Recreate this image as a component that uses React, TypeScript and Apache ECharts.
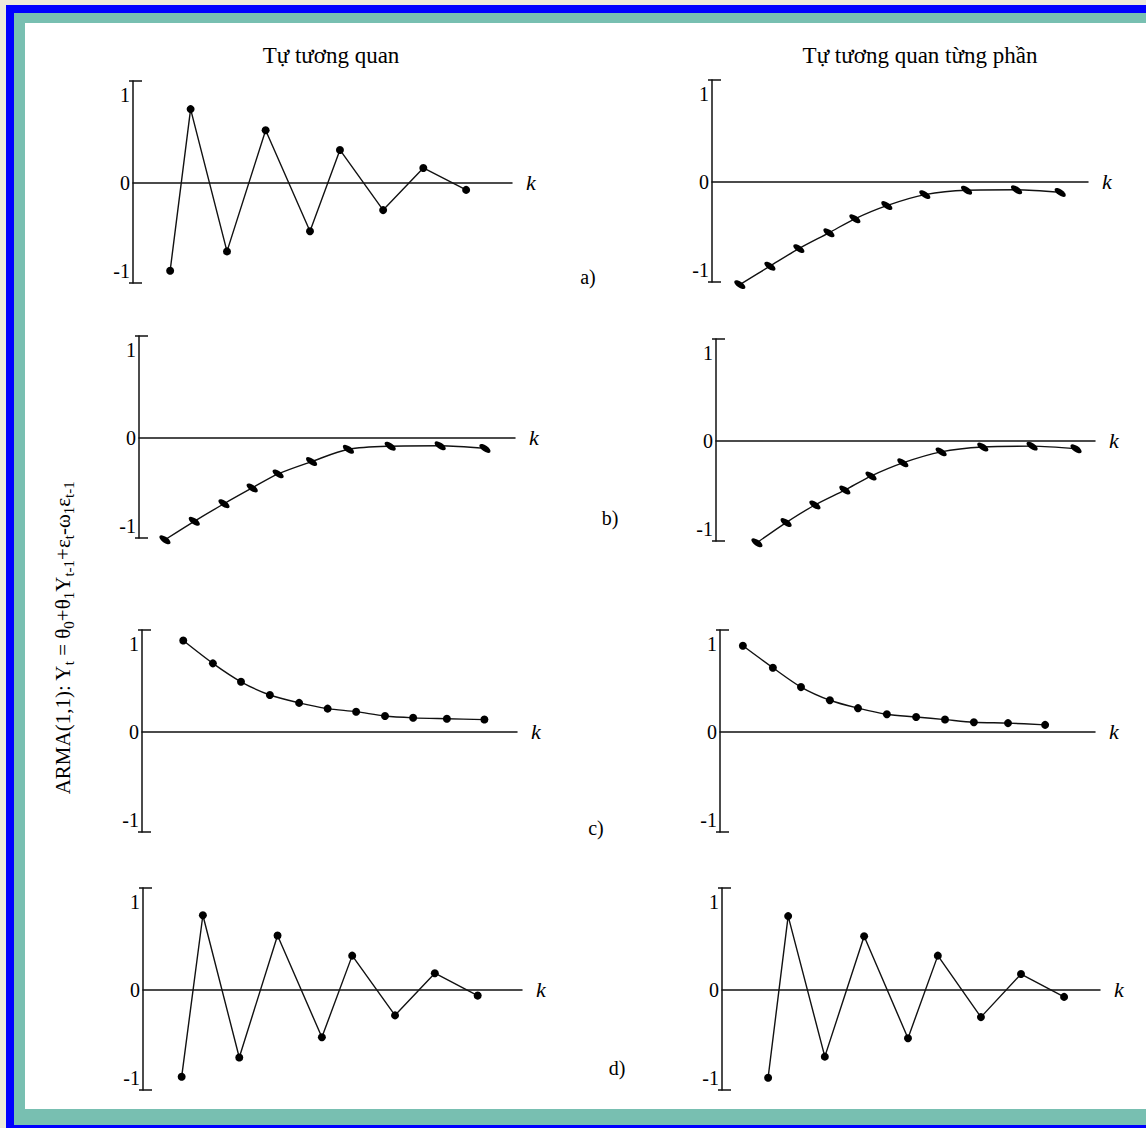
import React, { useEffect, useRef } from "react";
import * as echarts from "echarts";

// ---------- data ----------
// lag positions (k, in units of the drawn k-axis, 0..10) and correlation values
const K_A_ACF = [0.98, 1.52, 2.48, 3.5, 4.67, 5.46, 6.6, 7.66, 8.79];
const R_A_ACF = [-1.0, 0.84, -0.78, 0.6, -0.55, 0.375, -0.31, 0.17, -0.08];

const K_A_PACF = [0.74, 1.54, 2.31, 3.11, 3.8, 4.65, 5.66, 6.77, 8.1, 9.26];
const R_A_PACF = [-1.17, -0.96, -0.76, -0.58, -0.42, -0.27, -0.145, -0.095, -0.09, -0.12];

const K_B_ACF = [0.69, 1.47, 2.26, 3.01, 3.7, 4.59, 5.57, 6.68, 8.01, 9.2];
const R_B_ACF = [-1.16, -0.95, -0.75, -0.57, -0.41, -0.27, -0.13, -0.095, -0.09, -0.12];

const K_B_PACF = [1.08, 1.85, 2.61, 3.4, 4.09, 4.93, 5.94, 7.04, 8.34, 9.5];
const R_B_PACF = [-1.16, -0.93, -0.73, -0.56, -0.4, -0.25, -0.125, -0.07, -0.06, -0.09];

const K_C_ACF = [1.1, 1.89, 2.64, 3.41, 4.19, 4.95, 5.71, 6.48, 7.23, 8.13, 9.13];
const R_C_ACF = [1.04, 0.78, 0.57, 0.42, 0.33, 0.265, 0.23, 0.18, 0.16, 0.15, 0.14];

const K_C_PACF = [0.61, 1.41, 2.16, 2.93, 3.68, 4.45, 5.23, 6.0, 6.77, 7.68, 8.67];
const R_C_PACF = [0.98, 0.73, 0.51, 0.36, 0.27, 0.2, 0.17, 0.14, 0.11, 0.1, 0.08];

const K_D_ACF = [1.02, 1.58, 2.54, 3.55, 4.72, 5.52, 6.65, 7.7, 8.83];
const R_D_ACF = [-0.99, 0.85, -0.77, 0.62, -0.54, 0.39, -0.29, 0.19, -0.065];

const K_D_PACF = [1.22, 1.75, 2.72, 3.76, 4.92, 5.71, 6.85, 7.91, 9.05];
const R_D_PACF = [-1.0, 0.84, -0.76, 0.61, -0.55, 0.39, -0.31, 0.18, -0.08];

const Y_TICKS = [-1, 0, 1];
const COL_TITLES = ["Tự tương quan", "Tự tương quan từng phần"];
const ROW_LABELS = ["a)", "b)", "c)", "d)"];
// side label, subscripts marked as {s|...}
const SIDE_LABEL =
  "ARMA(1,1): Y{s|t} = θ{s|0}+θ{s|1}Y{s|t-1}+ε{s|t}-ω{s|1}ε{s|t-1}";
const AXIS_NAME = "k";

// ---------- layout / style ----------
const W = 1146;
const H = 1128;
const YMAX = 1.16;
const YMIN = -1.14;
const GRID_H = 202;
const SERIF = "'Liberation Serif', 'DejaVu Serif', serif";
const INK = "#111";

const PANELS = [
  { k: K_A_ACF, r: R_A_ACF, mark: "dot", smooth: false, left: 133, top: 81, width: 379 },
  { k: K_A_PACF, r: R_A_PACF, mark: "oval", smooth: true, left: 712, top: 80, width: 376 },
  { k: K_B_ACF, r: R_B_ACF, mark: "oval", smooth: true, left: 139, top: 336, width: 376 },
  { k: K_B_PACF, r: R_B_PACF, mark: "oval", smooth: true, left: 716, top: 339, width: 379 },
  { k: K_C_ACF, r: R_C_ACF, mark: "dot", smooth: true, left: 142, top: 630, width: 375 },
  { k: K_C_PACF, r: R_C_PACF, mark: "dot", smooth: true, left: 720, top: 630, width: 375 },
  { k: K_D_ACF, r: R_D_ACF, mark: "dot", smooth: false, left: 143, top: 888, width: 379 },
  { k: K_D_PACF, r: R_D_PACF, mark: "dot", smooth: false, left: 722, top: 888, width: 378 },
];

const ROW_LABEL_POS = [
  [588, 277],
  [610, 518],
  [596, 828],
  [617, 1068],
];
const TITLE_POS = [
  [331, 55],
  [920, 55],
];

const OVAL = "path://M0,10A20,10,0,1,1,40,10A20,10,0,1,1,0,10Z";

function buildOption() {
  const grid: any[] = [];
  const xAxis: any[] = [];
  const yAxis: any[] = [];
  const series: any[] = [];

  PANELS.forEach((p, i) => {
    grid.push({ left: p.left, top: p.top, width: p.width, height: GRID_H, containLabel: false });
    xAxis.push({
      gridIndex: i,
      type: "value",
      min: 0,
      max: 10,
      z: 5,
      axisLine: { show: true, onZero: true, lineStyle: { color: INK, width: 1.5 } },
      axisTick: { show: false },
      axisLabel: { show: false },
      splitLine: { show: false },
      name: AXIS_NAME,
      nameLocation: "end",
      nameGap: 14,
      nameTextStyle: {
        fontStyle: "italic",
        fontFamily: SERIF,
        fontSize: 22,
        color: "#000",
        verticalAlign: "middle",
      },
    });
    // main y axis with labels and the right half of the end caps
    yAxis.push({
      gridIndex: i,
      type: "value",
      position: "left",
      offset: 0,
      min: YMIN,
      max: YMAX,
      z: 5,
      axisLine: { show: true, onZero: false, lineStyle: { color: INK, width: 1.5 } },
      axisTick: {
        show: true,
        inside: true,
        length: 9,
        customValues: [YMIN, YMAX],
        lineStyle: { color: INK, width: 1.5 },
      },
      axisLabel: {
        show: true,
        customValues: Y_TICKS,
        fontFamily: SERIF,
        fontSize: 20,
        color: "#000",
        margin: 3,
      },
      splitLine: { show: false },
    });
    // second y axis: only the left half of the end caps
    yAxis.push({
      gridIndex: i,
      type: "value",
      position: "left",
      offset: 0,
      min: YMIN,
      max: YMAX,
      z: 5,
      axisLine: { show: false, onZero: false },
      axisTick: {
        show: true,
        inside: false,
        length: 4,
        customValues: [YMIN, YMAX],
        lineStyle: { color: INK, width: 1.5 },
      },
      axisLabel: { show: false },
      splitLine: { show: false },
    });

    const isOval = p.mark === "oval";
    series.push({
      type: "line",
      xAxisIndex: i,
      yAxisIndex: i * 2,
      data: p.k.map((kv, j) => [kv, p.r[j]]),
      smooth: p.smooth ? 0.3 : false,
      clip: false,
      z: 6,
      symbol: isOval ? OVAL : "circle",
      symbolSize: isOval ? [13, 6] : 8,
      symbolRotate: isOval ? -35 : 0,
      showSymbol: true,
      itemStyle: { color: "#000", borderWidth: 0 },
      lineStyle: { color: INK, width: 1.4 },
      emphasis: { disabled: true },
    });
  });

  const graphic: any[] = [
    { type: "rect", z: 0, silent: true, shape: { x: 6, y: 5, width: W - 6, height: H - 5 }, style: { fill: "#0000FF" } },
    { type: "rect", z: 0, silent: true, shape: { x: 14, y: 13, width: W - 14, height: 1112 }, style: { fill: "#78BFB1" } },
    { type: "rect", z: 0, silent: true, shape: { x: 25, y: 23, width: W - 25, height: 1086 }, style: { fill: "#FFFFFF" } },
  ];
  COL_TITLES.forEach((t, i) => {
    graphic.push({
      type: "text",
      z: 10,
      x: TITLE_POS[i][0],
      y: TITLE_POS[i][1],
      style: {
        text: t,
        fontFamily: SERIF,
        fontSize: 23,
        fill: "#000",
        align: "center",
        verticalAlign: "middle",
      },
    });
  });
  ROW_LABELS.forEach((t, i) => {
    graphic.push({
      type: "text",
      z: 10,
      x: ROW_LABEL_POS[i][0],
      y: ROW_LABEL_POS[i][1],
      style: {
        text: t,
        fontFamily: SERIF,
        fontSize: 20,
        fill: "#000",
        align: "center",
        verticalAlign: "middle",
      },
    });
  });
  graphic.push({
    type: "text",
    z: 10,
    x: 63,
    y: 638,
    rotation: Math.PI / 2,
    style: {
      text: SIDE_LABEL,
      fontFamily: SERIF,
      fontSize: 21,
      lineHeight: 26,
      fill: "#000",
      align: "center",
      verticalAlign: "middle",
      rich: {
        s: {
          fontFamily: SERIF,
          fontSize: 15,
          fill: "#000",
          verticalAlign: "bottom",
        },
      },
    },
  });

  return {
    animation: false,
    backgroundColor: "#ECEADB",
    graphic,
    grid,
    xAxis,
    yAxis,
    series,
  };
}

export default function App() {
  const ref = useRef<HTMLDivElement>(null);
  useEffect(() => {
    if (!ref.current) return;
    const chart = echarts.init(ref.current, undefined, { renderer: "svg", width: W, height: H });
    chart.setOption(buildOption() as any);
    return () => {
      chart.dispose();
    };
  }, []);
  return (
    <div
      ref={ref}
      style={{ position: "fixed", left: 0, top: 0, width: W, height: H, margin: 0, padding: 0 }}
    />
  );
}
